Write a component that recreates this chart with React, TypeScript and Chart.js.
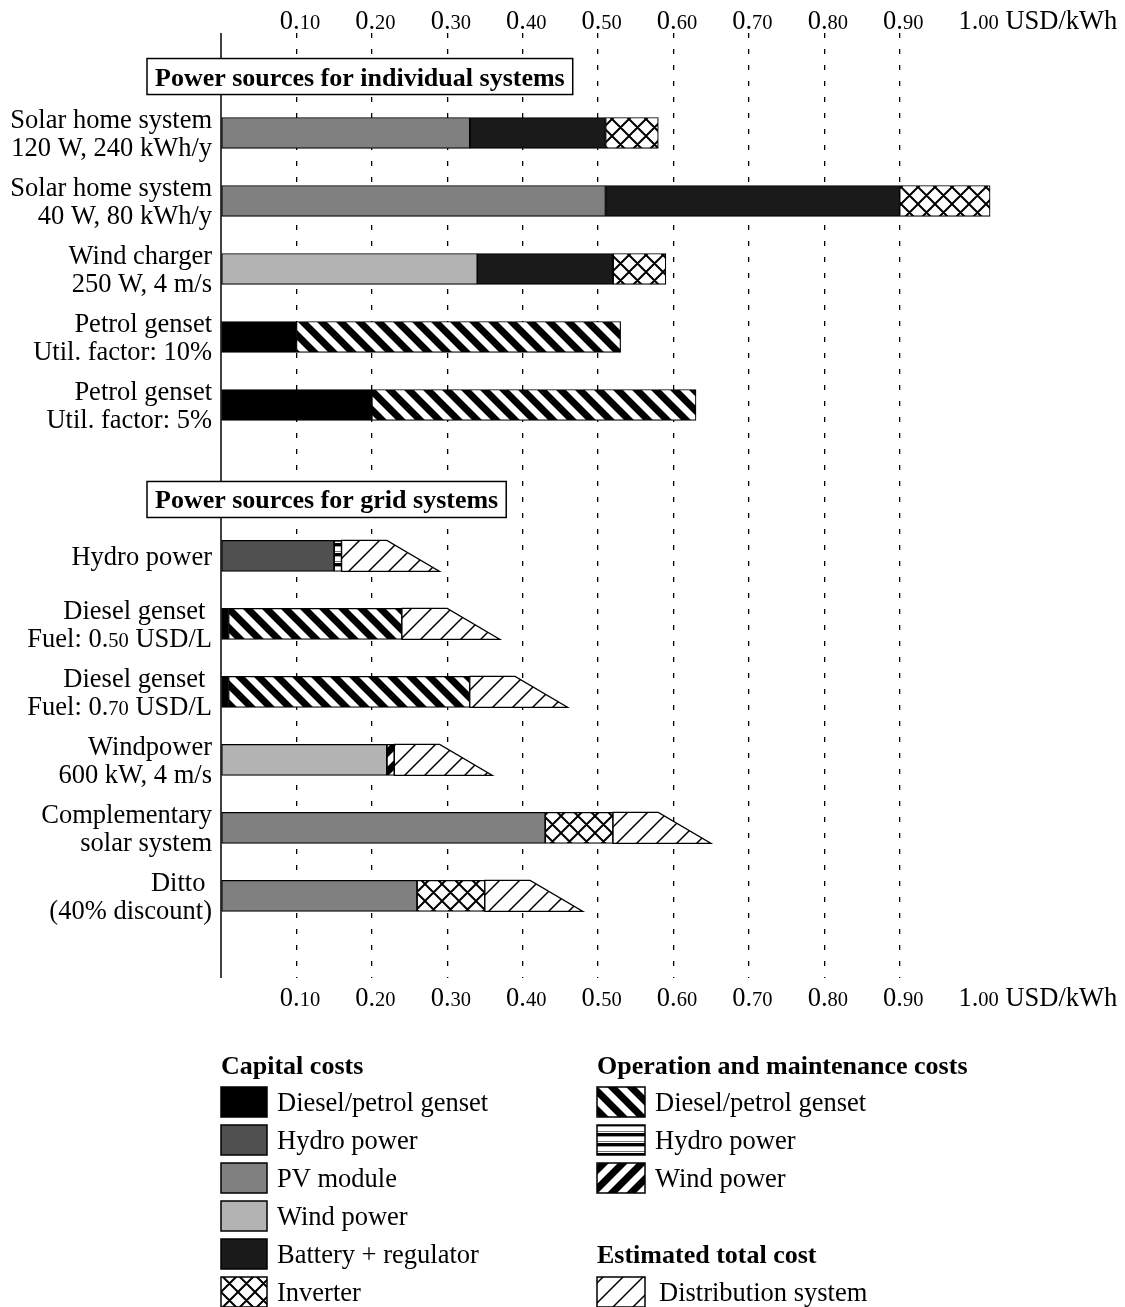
import React, { useEffect, useRef } from "react";
import { Chart, registerables } from "chart.js";

Chart.register(...registerables);

// ---------------- data ----------------
const categories: string[][] = [
  ["Solar home system", "120 W, 240 kWh/y"],
  ["Solar home system", "40 W, 80 kWh/y"],
  ["Wind charger", "250 W, 4 m/s"],
  ["Petrol genset", "Util. factor: 10%"],
  ["Petrol genset", "Util. factor: 5%"],
  ["Hydro power"],
  ["Diesel genset ", "Fuel: 0.50 USD/L"],
  ["Diesel genset ", "Fuel: 0.70 USD/L"],
  ["Windpower", "600 kW, 4 m/s"],
  ["Complementary", "solar system"],
  ["Ditto ", "(40% discount)"],
];
const groupOf = [0, 0, 0, 0, 0, 1, 1, 1, 1, 1, 1];
const groupTitles = ["Power sources for individual systems", "Power sources for grid systems"];

const tickValues = [0.1, 0.2, 0.3, 0.4, 0.5, 0.6, 0.7, 0.8, 0.9, 1.0];
const unitLabel = "USD/kWh";

// capital costs (USD/kWh)
const capDiesel = [0, 0, 0, 0.1, 0.2, 0, 0.01, 0.01, 0, 0, 0];
const capHydro = [0, 0, 0, 0, 0, 0.15, 0, 0, 0, 0, 0];
const capPV = [0.33, 0.51, 0, 0, 0, 0, 0, 0, 0, 0.43, 0.26];
const capWind = [0, 0, 0.34, 0, 0, 0, 0, 0, 0.22, 0, 0];
const capBattery = [0.18, 0.39, 0.18, 0, 0, 0, 0, 0, 0, 0, 0];
const capInverter = [0.07, 0.12, 0.07, 0, 0, 0, 0, 0, 0, 0.09, 0.09];
// operation & maintenance costs
const omDiesel = [0, 0, 0, 0.43, 0.43, 0, 0.23, 0.32, 0, 0, 0];
const omHydro = [0, 0, 0, 0, 0, 0.01, 0, 0, 0, 0, 0];
const omWind = [0, 0, 0, 0, 0, 0, 0, 0, 0.01, 0, 0];
// estimated distribution system cost (low / high estimate)
const distLow = [0, 0, 0, 0, 0, 0.06, 0.06, 0.06, 0.06, 0.06, 0.06];
const distHigh = [0, 0, 0, 0, 0, 0.13, 0.13, 0.13, 0.13, 0.13, 0.13];

const legendTitles = ["Capital costs", "Operation and maintenance costs", "Estimated total cost"];
const distLabel = "Distribution system";

// ---------------- layout / style ----------------
const W = 1125;
const H = 1307;
const SERIF = "'Liberation Serif', 'Times New Roman', Times, serif";
const FONT_PX = 26.5;
const BOLD_PX = 26;
const SMALL_PX = 20.5;
const PLOT_LEFT = 221;
const PX_PER_UNIT = 754;
const X_MAX = 1.05;
const PLOT_TOP = 33;
const PLOT_BOTTOM = 978;
const ROW_PX = 68;
const Y_MAX = (PLOT_BOTTOM - PLOT_TOP) / ROW_PX;
const FIRST_ROW = 1.47;
const GROUP_EXTRA = 1.22;
const HEADER_OFFSET = 0.83;
const BAR_PX = 31;
const rowPos = (i: number) => FIRST_ROW + i + groupOf[i] * GROUP_EXTRA;

type FillKey =
  | "diesel" | "hydro" | "pv" | "wind" | "battery" | "inverter"
  | "omDiesel" | "omHydro" | "omWind" | "dist";

const series: { name: string; legend: "cap" | "om"; values: number[]; fill: FillKey }[] = [
  { name: "Diesel/petrol genset", legend: "cap", values: capDiesel, fill: "diesel" },
  { name: "Hydro power", legend: "cap", values: capHydro, fill: "hydro" },
  { name: "PV module", legend: "cap", values: capPV, fill: "pv" },
  { name: "Wind power", legend: "cap", values: capWind, fill: "wind" },
  { name: "Battery + regulator", legend: "cap", values: capBattery, fill: "battery" },
  { name: "Inverter", legend: "cap", values: capInverter, fill: "inverter" },
  { name: "Diesel/petrol genset", legend: "om", values: omDiesel, fill: "omDiesel" },
  { name: "Hydro power", legend: "om", values: omHydro, fill: "omHydro" },
  { name: "Wind power", legend: "om", values: omWind, fill: "omWind" },
];

const font = (px: number, bold = false) => `${bold ? "bold " : ""}${px}px ${SERIF}`;

function tile(w: number, h: number, draw: (c: CanvasRenderingContext2D) => void) {
  const cv = document.createElement("canvas");
  cv.width = w;
  cv.height = h;
  const c = cv.getContext("2d")!;
  c.fillStyle = "#ffffff";
  c.fillRect(0, 0, w, h);
  draw(c);
  return cv;
}

function diagLines(c: CanvasRenderingContext2D, p: number, dir: 1 | -1) {
  for (let k = -2; k <= 2; k++) {
    if (dir === 1) {
      c.moveTo(k * p - p, -p);
      c.lineTo(k * p + 2 * p, 2 * p);
    } else {
      c.moveTo(k * p + p, -p);
      c.lineTo(k * p - 2 * p, 2 * p);
    }
  }
}

function makeFills(ctx: CanvasRenderingContext2D): Record<FillKey, string | CanvasPattern> {
  const pat = (cv: HTMLCanvasElement) => ctx.createPattern(cv, "repeat")!;
  const stripes = (p: number, lw: number, dir: 1 | -1) =>
    pat(
      tile(p, p, (c) => {
        c.strokeStyle = "#000";
        c.lineWidth = lw;
        c.beginPath();
        diagLines(c, p, dir);
        c.stroke();
      })
    );
  const cross = pat(
    tile(17, 17, (c) => {
      c.strokeStyle = "#000";
      c.lineWidth = 2;
      c.beginPath();
      diagLines(c, 17, 1);
      diagLines(c, 17, -1);
      c.stroke();
    })
  );
  const hydroStripes = pat(
    tile(4, 10, (c) => {
      c.fillStyle = "#777";
      c.fillRect(0, 1, 4, 1);
      c.fillStyle = "#000";
      c.fillRect(0, 3, 4, 3);
      c.fillStyle = "#999";
      c.fillRect(0, 6, 4, 1);
    })
  );
  return {
    diesel: "#000000",
    hydro: "#505050",
    pv: "#808080",
    wind: "#b3b3b3",
    battery: "#1a1a1a",
    inverter: cross,
    omDiesel: stripes(19, 7, 1),
    omHydro: hydroStripes,
    omWind: stripes(19, 7, -1),
    dist: stripes(20, 1.5, -1),
  };
}

type Part = [string, string];
function mixedParts(text: string, big: number, small: number, bold = false): Part[] {
  const m = text.match(/^(.*?\d\.)(\d+)(.*)$/);
  if (!m) return [[text, font(big, bold)]];
  return [
    [m[1], font(big, bold)],
    [m[2], font(small, bold)],
    [m[3], font(big, bold)],
  ];
}
function partsWidth(ctx: CanvasRenderingContext2D, parts: Part[]) {
  let w = 0;
  for (const [t, f] of parts) {
    ctx.font = f;
    w += ctx.measureText(t).width;
  }
  return w;
}
function drawParts(ctx: CanvasRenderingContext2D, parts: Part[], x: number, y: number) {
  let cx = x;
  for (const [t, f] of parts) {
    ctx.font = f;
    ctx.fillText(t, cx, y);
    cx += ctx.measureText(t).width;
  }
}

export default function App() {
  const ref = useRef<HTMLCanvasElement>(null);

  useEffect(() => {
    const canvas = ref.current!;
    const ctx = canvas.getContext("2d")!;
    const fills = makeFills(ctx);
    Chart.defaults.font.family = SERIF;

    // build floating segments from cumulative starts
    const starts = categories.map(() => 0);
    const datasets: any[] = series.map((s) => {
      const data: any[] = [];
      s.values.forEach((v, i) => {
        if (v > 0) {
          data.push({ x: [starts[i], starts[i] + v], y: rowPos(i) });
          starts[i] += v;
        }
      });
      return {
        label: s.name,
        data,
        backgroundColor: fills[s.fill],
        borderColor: "#000",
        borderWidth: 1.2,
        borderSkipped: false,
        barThickness: BAR_PX,
        grouped: false,
      };
    });
    const distData: any[] = [];
    distHigh.forEach((v, i) => {
      if (v > 0) {
        distData.push({ x: [starts[i], starts[i] + v], y: rowPos(i), lowEnd: starts[i] + distLow[i] });
      }
    });
    datasets.push({
      label: distLabel,
      data: distData,
      backgroundColor: "rgba(0,0,0,0)",
      borderWidth: 0,
      barThickness: BAR_PX,
      grouped: false,
    });
    const distIndex = datasets.length - 1;

    const overlay = {
      id: "overlay",
      beforeDatasetsDraw(chart: any) {
        const c = chart.ctx;
        const xs = chart.scales.x;
        const x0 = xs.getPixelForValue(0);
        c.save();
        c.strokeStyle = "#000";
        c.lineWidth = 1.5;
        c.beginPath();
        c.moveTo(x0, chart.chartArea.top);
        c.lineTo(x0, chart.chartArea.bottom);
        c.stroke();
        c.restore();
      },
      afterDatasetsDraw(chart: any) {
        const c: CanvasRenderingContext2D = chart.ctx;
        const xs = chart.scales.x;
        const ys = chart.scales.y;
        c.save();

        // distribution trapezoids
        const meta = chart.getDatasetMeta(distIndex);
        meta.data.forEach((el: any, j: number) => {
          const p = el.getProps(["x", "y", "base", "height"], true);
          const raw = datasets[distIndex].data[j];
          const top = p.y - p.height / 2;
          const bot = p.y + p.height / 2;
          const left = Math.min(p.base, p.x);
          const right = Math.max(p.base, p.x);
          const low = xs.getPixelForValue(raw.lowEnd);
          c.beginPath();
          c.moveTo(left, top);
          c.lineTo(low, top);
          c.lineTo(right, bot);
          c.lineTo(left, bot);
          c.closePath();
          c.fillStyle = fills.dist as any;
          c.fill();
          c.strokeStyle = "#000";
          c.lineWidth = 1.2;
          c.stroke();
        });

        c.fillStyle = "#000";
        c.textAlign = "left";
        c.textBaseline = "alphabetic";

        // group headers
        groupTitles.forEach((t, g) => {
          const first = groupOf.indexOf(g);
          const cy = ys.getPixelForValue(rowPos(first) - HEADER_OFFSET);
          c.font = font(BOLD_PX, true);
          const tw = c.measureText(t).width;
          const bx = 147;
          const bw = tw + 16;
          const bh = 36;
          c.fillStyle = "#fff";
          c.fillRect(bx, cy - bh / 2, bw, bh);
          c.strokeStyle = "#000";
          c.lineWidth = 1.5;
          c.strokeRect(bx, cy - bh / 2, bw, bh);
          c.fillStyle = "#000";
          c.fillText(t, bx + 8, cy + 9);
        });

        // category labels
        categories.forEach((lines, i) => {
          const cy = ys.getPixelForValue(rowPos(i));
          lines.forEach((ln, k) => {
            const ly = lines.length === 1 ? cy : cy + (k === 0 ? -14 : 14);
            const parts = mixedParts(ln, FONT_PX, SMALL_PX);
            const w = partsWidth(c, parts);
            drawParts(c, parts, 212 - w, ly + 9);
          });
        });

        // tick labels top & bottom
        [29, 1006].forEach((baseY) => {
          tickValues.forEach((v, idx) => {
            const gx = xs.getPixelForValue(v);
            const parts = mixedParts(v.toFixed(2), FONT_PX, SMALL_PX);
            if (idx === tickValues.length - 1) parts.push([" " + unitLabel, font(FONT_PX)]);
            c.font = parts[0][1];
            const dotOff = c.measureText(parts[0][0]).width - c.measureText(".").width / 2;
            drawParts(c, parts, gx - dotOff, baseY);
          });
        });

        // legend
        const LROW0 = 1102;
        const LSTEP = 38;
        const swatch = (x: number, cy: number, w: number, fill: any) => {
          c.fillStyle = fill;
          c.fillRect(x, cy - 15, w, 30);
          c.strokeStyle = "#000";
          c.lineWidth = 1.5;
          c.strokeRect(x, cy - 15, w, 30);
        };
        c.fillStyle = "#000";
        c.font = font(BOLD_PX, true);
        c.fillText(legendTitles[0], 221, LROW0 - 37 + 9);
        c.fillText(legendTitles[1], 597, LROW0 - 37 + 9);
        c.fillText(legendTitles[2], 597, LROW0 + 4 * LSTEP + 9);
        let li = 0;
        let ri = 0;
        series.forEach((s) => {
          if (s.legend === "cap") {
            const cy = LROW0 + li * LSTEP;
            swatch(221, cy, 46, fills[s.fill]);
            c.fillStyle = "#000";
            c.font = font(FONT_PX);
            c.fillText(s.name, 277, cy + 9);
            li++;
          } else {
            const cy = LROW0 + ri * LSTEP;
            swatch(597, cy, 48, fills[s.fill]);
            c.fillStyle = "#000";
            c.font = font(FONT_PX);
            c.fillText(s.name, 655, cy + 9);
            ri++;
          }
        });
        const dcy = LROW0 + 5 * LSTEP;
        swatch(597, dcy, 48, fills.dist);
        c.fillStyle = "#000";
        c.font = font(FONT_PX);
        c.fillText(distLabel, 659, dcy + 9);

        c.restore();
      },
    };

    const chart = new Chart(canvas, {
      type: "bar",
      data: { datasets },
      options: {
        indexAxis: "y",
        responsive: false,
        animation: false,
        events: [],
        layout: {
          padding: {
            left: PLOT_LEFT,
            right: W - (PLOT_LEFT + X_MAX * PX_PER_UNIT),
            top: PLOT_TOP,
            bottom: H - PLOT_BOTTOM,
          },
        },
        plugins: { legend: { display: false }, tooltip: { enabled: false } },
        scales: {
          x: {
            type: "linear",
            min: 0,
            max: X_MAX,
            offset: false,
            ticks: { display: false, stepSize: 0.1 },
            grid: {
              drawTicks: false,
              offset: false,
              lineWidth: 1.3,
              color: (cx: any) =>
                cx.tick && cx.tick.value > 0.05 && cx.tick.value < 1.001 ? "#000" : "rgba(0,0,0,0)",
            },
            border: { display: false, dash: [5, 11] },
          },
          y: {
            type: "linear",
            min: 0,
            max: Y_MAX,
            reverse: true,
            offset: false,
            grid: { offset: false },
            display: false,
          },
        },
      } as any,
      plugins: [overlay],
    });
    return () => chart.destroy();
  }, []);

  return (
    <div style={{ position: "absolute", left: 0, top: 0, width: W, height: H, background: "#fff" }}>
      <canvas ref={ref} width={W} height={H} style={{ display: "block" }} />
    </div>
  );
}
